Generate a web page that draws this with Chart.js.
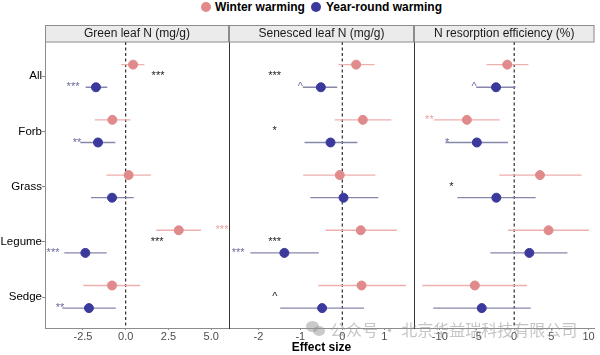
<!DOCTYPE html>
<html><head><meta charset="utf-8">
<script src="https://cdn.jsdelivr.net/npm/chart.js@4.4.1/dist/chart.umd.min.js"></script>
<style>
body{margin:0;background:#fff;}
#wrap{position:relative;width:600px;height:355px;overflow:hidden;font-family:"Liberation Sans",Arial,sans-serif;}
#wrap canvas{position:absolute;left:0;top:0;}
.lg{position:absolute;top:0;font-weight:bold;font-size:12px;line-height:14px;color:#000;white-space:nowrap;}
.dot{position:absolute;width:10px;height:10px;border-radius:50%;top:2px;}
#wm{position:absolute;left:330px;top:319px;font-family:"Noto Sans CJK SC",sans-serif;font-size:16px;line-height:20px;color:rgba(150,150,150,0.55);white-space:nowrap;z-index:5;}
#wmi{position:absolute;left:306px;top:321px;width:20px;height:16px;z-index:5;}
#wmi span{position:absolute;border-radius:50%;background:rgba(150,150,150,0.5);}
</style></head><body>
<div id="wrap">
  <span class="dot" style="left:201px;background:#e08a8b"></span>
  <span class="lg" style="left:215px">Winter warming</span>
  <span class="dot" style="left:311px;background:#3b3a9c"></span>
  <span class="lg" style="left:326px">Year-round warming</span>
  <canvas id="c1" width="600" height="355"></canvas>
  <canvas id="c2" width="600" height="355"></canvas>
  <canvas id="c3" width="600" height="355"></canvas>
  <div id="wmi"><span style="left:0;top:0;width:13px;height:11px"></span><span style="left:7px;top:5px;width:12px;height:10px"></span></div>
  <div id="wm">公众号 · 北京华益瑞科技有限公司</div>
</div>
<script>
// ---- data ----
const categories = ['All','Forb','Grass','Legume','Sedge'];
const panelTitles = ['Green leaf N (mg/g)','Senesced leaf N (mg/g)','N resorption efficiency (%)'];
const seriesNames = ['Winter warming','Year-round warming'];

// Green leaf N
const greenWinter   = [0.43, -0.78, 0.17, 3.10, -0.80];
const greenWinterLo = [-0.26, -1.81, -1.13, 1.79, -2.48];
const greenWinterHi = [1.09, 0.27, 1.48, 4.40, 0.85];
const greenYear     = [-1.74, -1.62, -0.80, -2.36, -2.15];
const greenYearLo   = [-2.34, -2.65, -2.03, -3.59, -3.71];
const greenYearHi   = [-1.08, -0.61, 0.47, -1.11, -0.58];

// Senesced leaf N
const senWinter   = [0.33, 0.49, -0.06, 0.44, 0.46];
const senWinterLo = [-0.09, -0.18, -0.93, -0.40, -0.57];
const senWinterHi = [0.77, 1.17, 0.79, 1.30, 1.52];
const senYear     = [-0.51, -0.28, 0.03, -1.38, -0.48];
const senYearLo   = [-0.94, -0.90, -0.76, -2.19, -1.48];
const senYearHi   = [-0.12, 0.36, 0.86, -0.56, 0.52];

// N resorption efficiency
const nreWinter   = [-0.93, -6.36, 3.47, 4.62, -5.29];
const nreWinterLo = [-3.73, -10.8, -2.0, -0.84, -12.36];
const nreWinterHi = [1.91, -1.96, 9.07, 10.04, 1.73];
const nreYear     = [-2.44, -5.02, -2.40, 2.04, -4.36];
const nreYearLo   = [-5.11, -9.24, -7.64, -3.20, -10.89];
const nreYearHi   = [0.18, -0.84, 2.89, 7.16, 2.22];

// tick labels
const greenTicks = [-2.5, 0, 2.5, 5.0];
const senTicks   = [-2, -1, 0, 1];
const nreTicks   = [-10, -5, 0, 5, 10];

// significance labels: [text, category index, row (w=winter, y=year-round, c=contrast), x value]
const greenStars = [['***',0,'c',1.89],['***',0,'y',-3.08],['**',1,'y',-2.85],['***',3,'w',5.63],['***',3,'c',1.84],['***',3,'y',-4.25],['**',4,'y',-3.84]];
const senStars   = [['***',0,'c',-1.61],['^',0,'y',-1.0],['*',1,'c',-1.61],['***',3,'c',-1.61],['***',3,'y',-2.48],['^',4,'c',-1.61]];
const nreStars   = [['^',0,'y',-5.4],['**',1,'w',-11.4],['*',1,'y',-9.0],['*',2,'c',-8.44]];

// ---- styling ----
Chart.defaults.font.family = '"Liberation Sans", Arial, sans-serif';
const C_W = '#e08a8b', C_Y = '#3b3a9c';
const C_WBAR = '#eeb0ae', C_YBAR = '#8686ac';
const STAR = {w:'#e9a3a2', y:'#6b6b9c', c:'#222'};
const OFF = {w:-0.21, y:0.2, c:0};
const Y_MIN = 0.38, Y_MAX = 5.56;

function barData(lo, hi, off){
  const d = [];
  categories.forEach((c,i)=>{ d.push({x:lo[i], y:i+1+off},{x:hi[i], y:i+1+off},{x:null,y:null}); });
  return d;
}
function ptData(v, off){ return categories.map((c,i)=>({x:v[i], y:i+1+off})); }

const panelPlugin = {
  id:'panelDeco',
  afterDatasetsDraw(chart, args, o){
    const {ctx, scales:{x,y}} = chart;
    ctx.save();
    ctx.font = '11px "Liberation Sans", Arial, sans-serif';
    ctx.textAlign = 'center'; ctx.textBaseline = 'middle';
    o.stars.forEach(s=>{
      ctx.fillStyle = STAR[s[2]];
      ctx.fillText(s[0], x.getPixelForValue(s[3]), y.getPixelForValue(s[1]+1+OFF[s[2]]));
    });
    ctx.restore();
  },
  afterDraw(chart, args, o){
    const {ctx, chartArea:a} = chart;
    ctx.save();
    ctx.fillStyle = '#ebebeb';
    ctx.fillRect(a.left, 25, a.right-a.left, 17);
    ctx.strokeStyle = '#8c8c8c'; ctx.lineWidth = 1;
    ctx.strokeRect(a.left+0.5, 25.5, a.right-a.left-1, 16.5);
    ctx.fillStyle = '#1a1a1a';
    ctx.font = '12px "Liberation Sans", Arial, sans-serif';
    ctx.textAlign = 'center'; ctx.textBaseline = 'middle';
    ctx.fillText(o.title, (a.left+a.right)/2, 34);
    ctx.restore();
  }
};

function makeChart(id, p){
  const datasets = [
    {type:'scatter', label:seriesNames[0], data:ptData(p.w, OFF.w), backgroundColor:C_W, borderColor:C_W, pointRadius:4.5, order:0},
    {type:'scatter', label:seriesNames[1], data:ptData(p.y, OFF.y), backgroundColor:C_Y, borderColor:C_Y, pointRadius:4.5, order:0},
    {type:'scatter', label:'wbar', data:barData(p.wLo, p.wHi, OFF.w), showLine:true, spanGaps:false, borderColor:C_WBAR, borderWidth:1.3, pointRadius:0, order:1},
    {type:'scatter', label:'ybar', data:barData(p.yLo, p.yHi, OFF.y), showLine:true, spanGaps:false, borderColor:C_YBAR, borderWidth:1.3, pointRadius:0, order:1},
    {type:'scatter', label:'zero', data:[{x:0,y:Y_MIN},{x:0,y:Y_MAX}], showLine:true, borderColor:'#000', borderWidth:1, borderDash:[3,2.5], pointRadius:0, order:2}
  ];
  return new Chart(document.getElementById(id), {
    type:'scatter',
    data:{datasets},
    options:{
      responsive:false, animation:false, devicePixelRatio:1,
      layout:{padding:{left:p.padL, right:p.padR, top:42, bottom:0}},
      plugins:{legend:{display:false}, tooltip:{enabled:false}, panelDeco:{title:p.title, stars:p.stars}},
      scales:{
        x:{type:'linear', min:p.min, max:p.max,
          afterBuildTicks:s=>{ s.ticks = p.ticks.map(v=>({value:v})); },
          afterFit:s=>{ s.height = 27; },
          ticks:{callback:(v,i)=>p.fmt(p.ticks[i]), color:'#4d4d4d', font:{size:11}, padding:0, maxRotation:0, autoSkip:false},
          grid:{display:true, drawOnChartArea:false, drawTicks:true, tickLength:2, color:'#8c8c8c'},
          border:{display:true, color:'#8c8c8c', width:1},
          title:{display:!!p.xTitle, text:p.xTitle||'', color:'#000', font:{size:12, weight:'bold'}, padding:{top:0,bottom:0}}
        },
        y:{type:'linear', reverse:true, min:Y_MIN, max:Y_MAX,
          afterBuildTicks:s=>{ s.ticks = categories.map((c,i)=>({value:i+1})); },
          afterFit:s=>{ s.width = p.first ? 45 : 0; },
          ticks:{display:p.first, callback:(v,i)=>categories[i], color:'#000', font:{size:11.5}, padding:0, autoSkip:false},
          grid:{display:p.first, drawOnChartArea:false, drawTicks:true, tickLength:3, color:'#8c8c8c'},
          border:{display:true, color:p.first?'#8c8c8c':'#333', width:1}
        }
      }
    },
    plugins:[panelPlugin]
  });
}

makeChart('c1', {w:greenWinter, wLo:greenWinterLo, wHi:greenWinterHi, y:greenYear, yLo:greenYearLo, yHi:greenYearHi,
  min:-4.72, max:6.04, ticks:greenTicks, fmt:v=>v.toFixed(1), stars:greenStars, title:panelTitles[0], padL:0, padR:371, first:true});
makeChart('c2', {w:senWinter, wLo:senWinterLo, wHi:senWinterHi, y:senYear, yLo:senYearLo, yHi:senYearHi,
  min:-2.70, max:1.71, ticks:senTicks, fmt:v=>String(v), stars:senStars, title:panelTitles[1], padL:229, padR:186, first:false, xTitle:'Effect size'});
makeChart('c3', {w:nreWinter, wLo:nreWinterLo, wHi:nreWinterHi, y:nreYear, yLo:nreYearLo, yHi:nreYearHi,
  min:-13.47, max:10.8, ticks:nreTicks, fmt:v=>String(v), stars:nreStars, title:panelTitles[2], padL:414, padR:4, first:false});
</script>
</body></html>
